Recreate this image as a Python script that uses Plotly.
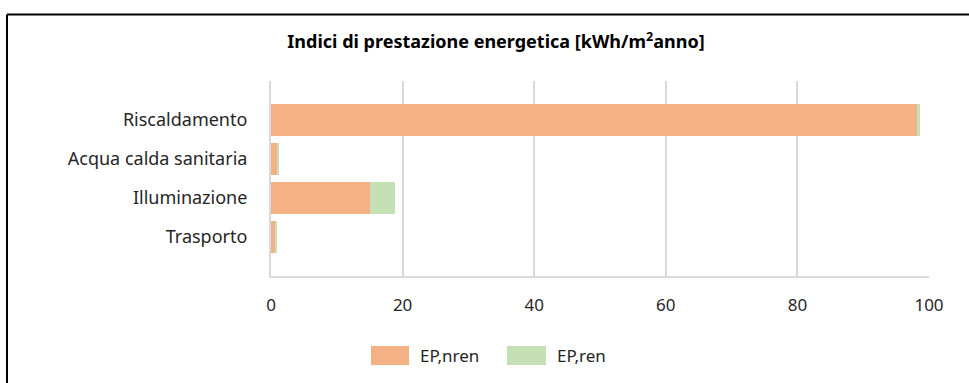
import plotly.graph_objects as go

# Energy performance indices per service [kWh/m2 year]
categories = ["Riscaldamento", "Acqua calda sanitaria", "Illuminazione", "Trasporto"]
ep_nren = [98.2, 1.0, 15.1, 0.7]
ep_ren = [0.4, 0.2, 3.75, 0.25]
series_names = ["EP,nren", "EP,ren"]
x_ticks = [0, 20, 40, 60, 80, 100]

ORANGE = "#F4B183"
GREEN = "#C5E0B4"
GRID = "#D9D9D9"
TEXT = "#262626"
FONT = "Noto Sans"

fig = go.Figure()
fig.add_trace(go.Bar(y=categories, x=ep_nren, orientation="h", name=series_names[0],
                     marker=dict(color=ORANGE, line=dict(width=0)), showlegend=False))
fig.add_trace(go.Bar(y=categories, x=ep_ren, orientation="h", name=series_names[1],
                     marker=dict(color=GREEN, line=dict(width=0)), showlegend=False))

W, H = 969, 383
L, R, T, B = 271, 40, 81, 107
pw, ph = W - L - R, H - T - B


def px_x(p):
    return (p - L) / pw


def px_y(p):
    return (H - B - p) / ph


shapes = []
# frame lines (top and left)
shapes.append(dict(type="line", xref="paper", yref="paper", x0=px_x(7), x1=px_x(975),
                   y0=px_y(14.5), y1=px_y(14.5), line=dict(color="#000000", width=2)))
shapes.append(dict(type="line", xref="paper", yref="paper", x0=px_x(7), x1=px_x(7),
                   y0=px_y(14.5), y1=px_y(390), line=dict(color="#000000", width=2)))

# legend swatches and labels
legend_items = [(371, 409, ORANGE, series_names[0], 418), (507, 546, GREEN, series_names[1], 555)]
annotations = []
for x0, x1, col, name, tx in legend_items:
    shapes.append(dict(type="rect", xref="paper", yref="paper", x0=px_x(x0), x1=px_x(x1),
                       y0=px_y(365), y1=px_y(346), fillcolor=col, line=dict(width=0)))
    annotations.append(dict(xref="paper", yref="paper", x=px_x(tx), y=px_y(355.5), text=name,
                            showarrow=False, xanchor="left", yanchor="middle",
                            font=dict(family=FONT, size=17, color=TEXT)))

fig.update_layout(
    width=W, height=H,
    margin=dict(l=L, r=R, t=T, b=B),
    paper_bgcolor="white", plot_bgcolor="white",
    barmode="stack", bargap=0.2,
    title=dict(text="<b>Indici di prestazione energetica [kWh/m<sup>2</sup>anno]</b>",
               x=496 / W, xref="container", xanchor="center",
               y=1 - 42 / H, yref="container", yanchor="middle",
               font=dict(family=FONT, size=18, color="#000000")),
    xaxis=dict(range=[0, 100], tickvals=x_ticks, showgrid=True, gridcolor=GRID, gridwidth=1.5,
               zeroline=False, showline=True, linecolor=GRID, linewidth=2,
               ticks="", ticklabelstandoff=13,
               tickfont=dict(family=FONT, size=17, color=TEXT)),
    yaxis=dict(type="category", categoryorder="array", categoryarray=categories,
               range=[4, -1], showgrid=False, zeroline=False, showline=True,
               linecolor=GRID, linewidth=2, ticks="", ticklabelstandoff=18,
               tickfont=dict(family=FONT, size=18, color=TEXT)),
    shapes=shapes, annotations=annotations,
    font=dict(family=FONT),
)

fig.write_html("out.html")
